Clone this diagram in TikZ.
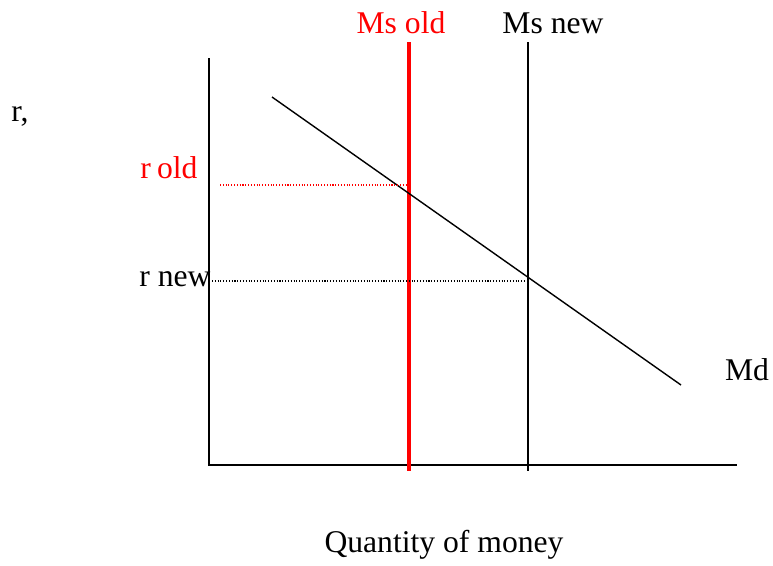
\documentclass[tikz,border=0pt]{standalone}
\usepackage{fontspec}
\setmainfont{Liberation Serif}
\usetikzlibrary{calc}

\begin{document}
\begin{tikzpicture}[x=0.02cm, y=-0.02cm, font=\fontsize{18}{20}\selectfont]
  \useasboundingbox (0,0) rectangle (773,565);
  % axes
  \coordinate (O) at (209,465);
  \coordinate (ytop) at (209,58);
  \coordinate (xend) at (737,465);
  \draw[thick] (ytop) -- (O) -- (xend);
  \node (rlab) at (20,116) {r,};
  \node (qlab) at (444,545) {Quantity of money};
  % money supply
  \coordinate (msoldtop) at (409,42);
  \coordinate (msoldbot) at (409,471);
  \coordinate (msnewtop) at (528,42);
  \coordinate (msnewbot) at (528,471);
  \draw[red, line width=2.2pt] (msoldtop) -- (msoldbot);
  \draw[thick] (msnewtop) -- (msnewbot);
  \node[red] (msold) at (401,23) {Ms old};
  \node (msnew) at (553,23) {Ms new};
  % money demand
  \coordinate (mdtop) at (272,97);
  \coordinate (mdbot) at (681,385);
  \draw[thick] (mdtop) -- (mdbot);
  \node (md) at (747,370) {Md};
  % interest rates
  \coordinate (roldl) at (220,185);
  \coordinate (roldr) at (406,185);
  \coordinate (rnewl) at (212,281);
  \coordinate (rnewr) at (528,281);
  \draw[red, densely dotted, semithick] (roldl) -- (roldr);
  \draw[densely dotted, semithick] (rnewl) -- (rnewr);
  \node[red] (rold) at (169,168) {r\hspace{3.5pt}old};
  \node (rnew) at (175,279) {r new};
\end{tikzpicture}
\end{document}
